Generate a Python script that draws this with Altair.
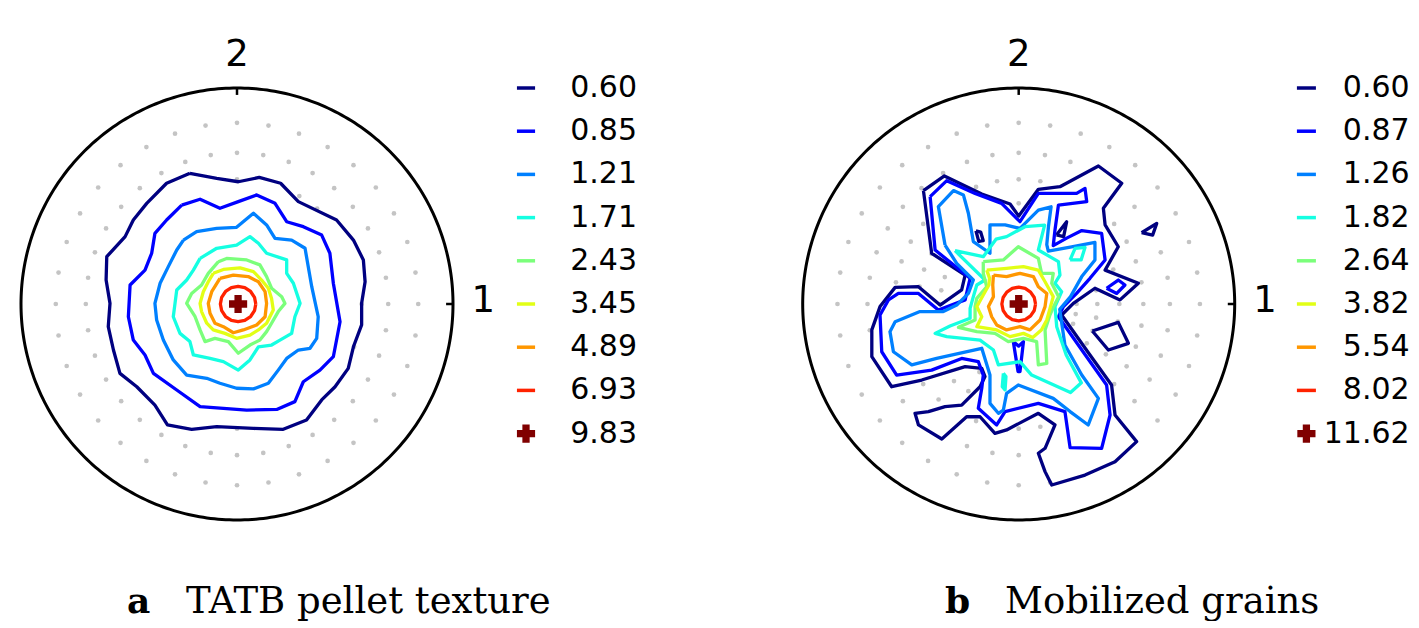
import math
import altair as alt
import pandas as pd

# ---------------- colours (jet colormap, 9 contour levels) ----------------
JET = ["#000080", "#0000ff", "#0080ff", "#15ffe2", "#7bff7b",
       "#e2ff15", "#ff9700", "#ff2200", "#800000"]

A_LEVEL_LABELS = ["0.60", "0.85", "1.21", "1.71", "2.43", "3.45", "4.89", "6.93", "9.83"]
B_LEVEL_LABELS = ["0.60", "0.87", "1.26", "1.82", "2.64", "3.82", "5.54", "8.02", "11.62"]

# pole-figure coordinates in percent of the projection radius (x right = "1", y up = "2")
A_PEAK = [(0.5, 0.0)]
B_PEAK = [(0.0, 0.0)]

# ---------------- panel a: TATB pellet texture ----------------
A_L0 = [(-21.8, 60.5), (-9.4, 58.2), (0.6, 56.6), (10.3, 58.6), (20.2, 55.9), (28.4, 47.4),
        (46.1, 38.9), (53.9, 29.6), (58.5, 20.4), (59.3, 10.3), (57.7, 0.3), (57.7, -9.7),
        (53.9, -19.8), (51.5, -29.8), (45.4, -38.3), (39.2, -44.4), (32.2, -53.7), (21.4, -58.0),
        (7.6, -57.6), (-9.4, -56.8), (-21.0, -58.0), (-32.2, -56.0), (-38.0, -46.8), (-46.4, -38.3),
        (-54.2, -32.1), (-57.2, -21.3), (-59.6, -10.5), (-58.8, 0.3), (-60.6, 11.1), (-60.3, 21.9),
        (-51.8, 31.2), (-48.0, 38.9), (-41.8, 46.6), (-32.6, 55.9)]
A_L1 = [(-25.6, 45.8), (-17.1, 48.5), (-7.9, 44.3), (0.6, 47.4), (9.1, 50.5), (17.6, 46.6),
        (23.0, 38.1), (30.7, 35.8), (39.2, 31.9), (43.0, 23.5), (44.6, 9.6), (47.7, -8.2),
        (44.6, -24.4), (38.4, -30.6), (30.7, -36.0), (26.8, -45.2), (18.4, -48.8), (4.5, -49.1),
        (-17.1, -47.5), (-27.9, -39.8), (-38.7, -32.1), (-42.6, -23.6), (-48.0, -16.7),
        (-50.3, -5.9), (-49.5, 8.8), (-42.6, 15.7), (-39.5, 23.5), (-38.0, 32.7), (-32.6, 38.9)]
A_L2 = [(-24.8, 29.6), (-18.7, 33.5), (-9.4, 35.0), (-0.2, 35.5), (7.6, 42.0), (13.7, 36.6),
        (17.6, 30.4), (25.3, 29.6), (31.5, 25.8), (34.6, 8.0), (37.6, -5.9), (36.9, -15.9),
        (33.8, -20.5), (28.4, -21.3), (23.0, -25.2), (19.1, -30.6), (14.5, -36.7), (7.6, -39.3),
        (-0.2, -39.0), (-7.9, -36.7), (-14.0, -34.4), (-23.3, -32.9), (-29.5, -25.9),
        (-34.1, -16.7), (-37.2, -7.4), (-38.0, 0.3), (-35.6, 9.6), (-31.8, 17.3), (-27.9, 25.0)]
A_L3 = [(-17.1, 21.1), (-9.4, 25.8), (-0.2, 27.3), (6.0, 31.2), (9.9, 28.1), (13.7, 23.5),
        (23.0, 20.4), (23.0, 14.2), (26.1, 9.6), (29.2, 0.3), (26.8, -5.9), (25.3, -13.6),
        (19.9, -16.7), (16.0, -19.0), (9.9, -19.8), (6.0, -25.9), (0.6, -30.6), (-6.3, -26.7),
        (-12.5, -25.2), (-20.2, -23.6), (-21.8, -17.4), (-26.4, -13.6), (-29.5, -5.9),
        (-28.7, 0.3), (-27.9, 6.5), (-23.3, 11.1), (-20.2, 15.7)]
A_L4 = [(-8.6, 19.6), (-4.8, 21.1), (4.5, 20.4), (10.6, 18.1), (13.7, 12.7), (16.0, 7.3),
        (20.7, 3.4), (22.2, 0.3), (19.1, -3.5), (16.0, -8.9), (13.7, -12.8), (10.6, -16.7),
        (6.0, -19.0), (0.6, -22.8), (-4.0, -17.4), (-10.2, -15.9), (-14.8, -17.4), (-17.1, -12.0),
        (-19.4, -5.9), (-23.3, 0.3), (-21.0, 4.9), (-16.4, 8.8), (-13.3, 14.2)]
A_L5 = [(-11.0, 14.2), (-6.3, 16.0), (1.4, 16.7), (7.6, 15.0), (11.4, 11.1), (14.5, 7.3),
        (16.0, 2.6), (16.8, -2.8), (13.7, -8.9), (9.9, -12.0), (6.0, -14.4), (-0.2, -15.9),
        (-5.6, -13.6), (-11.0, -12.0), (-14.0, -8.9), (-16.4, -3.5), (-17.1, 0.3), (-15.6, 5.7),
        (-13.3, 10.3)]
A_L6 = [(-7.9, 11.9), (-1.7, 13.4), (5.2, 12.7), (9.9, 10.3), (13.0, 5.7), (13.7, 0.3),
        (13.0, -5.9), (9.1, -9.7), (2.9, -12.0), (-1.7, -13.3), (-6.3, -10.5), (-10.2, -8.9),
        (-12.5, -4.3), (-13.3, 0.3), (-11.7, 5.7)]
A_L7 = [(8.7, 0.0), (8.1, 3.1), (6.3, 5.8), (3.6, 7.6), (0.5, 8.2), (-2.6, 7.6), (-5.3, 5.8),
        (-7.1, 3.1), (-7.7, 0.0), (-7.1, -3.1), (-5.3, -5.8), (-2.6, -7.6), (0.5, -8.2),
        (3.6, -7.6), (6.3, -5.8), (8.1, -3.1)]

A_CONTOURS = [(0, A_L0), (1, A_L1), (2, A_L2), (3, A_L3), (4, A_L4), (5, A_L5), (6, A_L6), (7, A_L7)]
A_OUTER = [A_L0]

# ---------------- panel b: mobilized grains ----------------
B_L0_MAIN = [(-44.1, 52.5), (-34.4, 59.3), (-17.1, 50.9), (-4.0, 46.3), (0.0, 40.7), (9.1, 53.1),
             (19.1, 54.3), (36.9, 63.9), (47.7, 55.9), (39.2, 44.3), (40.0, 36.6), (46.1, 26.5),
             (40.0, 15.7), (55.4, 9.6), (46.9, 1.9), (35.3, 7.3), (25.3, 0.3), (19.9, -5.1),
             (33.0, -23.6), (43.0, -37.5), (44.6, -51.4), (54.6, -63.7), (44.6, -73.0),
             (30.7, -79.2), (15.3, -83.8), (12.2, -77.6), (9.1, -69.1), (12.2, -66.8),
             (16.8, -56.0), (9.1, -50.6), (-5.6, -58.3), (-11.0, -59.9), (-17.9, -52.2),
             (-24.1, -52.2), (-35.6, -62.5), (-46.4, -56.0), (-48.0, -50.6), (-41.8, -49.8),
             (-34.1, -47.5), (-26.4, -46.8), (-17.9, -38.3), (-15.6, -33.6), (-17.1, -29.8),
             (-24.8, -29.0), (-44.9, -35.2), (-58.8, -38.3), (-68.0, -24.4), (-68.0, -12.0),
             (-64.2, -1.2), (-57.2, 7.7), (-46.4, 8.0), (-36.4, -0.5), (-26.4, 6.5),
             (-24.8, 13.4), (-40.3, 23.5)]
B_L0_ISLE_TRI = [(56.9, 33.0), (63.9, 37.3), (62.0, 31.9)]
B_L0_ISLE_SQ = [(34.1, -12.5), (46.1, -8.5), (50.8, -18.2), (41.5, -21.3)]
B_L0_HOLE_DIA = [(-19.8, 33.9), (-17.6, 33.3), (-16.4, 29.3), (-18.5, 29.0)]
B_L0_HOLE_TRI = [(17.5, 32.0), (22.2, 38.1), (20.8, 31.2)]

B_L1_MAIN = [(-41.0, 49.7), (-33.3, 57.1), (-20.2, 51.2), (-7.9, 46.6), (0.6, 38.1), (9.1, 51.2),
             (26.8, 51.2), (30.7, 53.5), (31.5, 47.4), (18.4, 45.8), (16.8, 34.3), (16.0, 27.0),
             (22.2, 30.5), (29.2, 34.0), (38.4, 32.7), (40.0, 20.4), (33.0, 11.9), (26.8, 4.9),
             (20.7, -1.2), (18.4, -5.9), (29.8, -22.1), (40.7, -37.5), (42.3, -51.4),
             (38.4, -66.8), (23.8, -66.5), (21.4, -49.8), (9.1, -46.0), (-6.3, -49.8),
             (-10.2, -56.0), (-18.7, -48.3), (-17.1, -39.0), (-16.4, -32.9), (-18.7, -26.7),
             (-26.4, -25.2), (-40.3, -30.6), (-56.5, -32.9), (-63.4, -22.1), (-64.2, -5.1),
             (-60.3, 1.9), (-55.7, 4.9), (-46.4, 4.9), (-37.2, -2.8), (-24.8, 1.9),
             (-22.5, 11.9), (-38.7, 25.0)]
B_L1_ISLE = [(40.7, 7.3), (46.1, 11.1), (49.2, 8.8), (45.4, 4.9)]
B_L1_SPIKE = [(-2.5, -17.4), (-0.3, -31.3), (0.6, -31.3), (2.2, -17.4), (0.0, -19.5)]

B_L2_MAIN = [(-34.1, 27.3), (-37.2, 45.1), (-30.2, 52.5), (-25.6, 50.5), (-23.3, 42.0),
             (-21.0, 28.9), (-13.3, 23.5), (-13.3, 36.6), (-6.3, 36.6), (0.6, 35.0), (9.1, 43.5),
             (15.0, 45.0), (13.8, 36.0), (13.0, 27.5), (13.7, 24.5), (24.5, 26.5), (35.3, 28.5),
             (35.3, 20.4), (29.2, 12.7), (24.0, 3.4), (19.0, -2.5), (21.4, -19.0), (29.2, -32.9),
             (36.9, -43.7), (32.2, -56.0), (23.8, -49.8), (16.0, -43.7), (-0.2, -37.5),
             (-5.6, -41.4), (-7.1, -49.1), (-9.4, -50.6), (-13.3, -46.0), (-13.3, -32.9),
             (-17.1, -20.5), (-38.0, -25.2), (-49.5, -28.2), (-58.0, -22.1), (-59.6, -12.8),
             (-57.2, -8.2), (-45.7, -3.5), (-34.9, -3.5), (-28.7, -0.5), (-23.3, 4.9),
             (-21.0, 11.1), (-28.7, 18.8)]

B_L3_MAIN = [(-29.5, 24.7), (-16.4, 21.9), (-10.5, 30.0), (-5.6, 31.2), (2.9, 35.8), (12.0, 36.5),
             (9.1, 25.0), (18.4, 19.6), (19.1, 13.4), (16.8, 9.6), (19.9, 5.7), (16.8, -1.2),
             (17.6, -10.5), (22.0, -23.6), (29.0, -36.5), (24.0, -41.0), (6.0, -32.9),
             (0.6, -26.7), (-9.4, -28.2), (-11.7, -21.3), (-17.9, -16.7), (-33.3, -15.1),
             (-38.7, -13.6), (-31.8, -10.2), (-22.5, -6.6), (-22.5, -2.0), (-21.0, 3.4),
             (-19.4, 8.8), (-15.6, 11.1)]
B_L3_ISLE_DIA = [(23.8, 20.4), (26.1, 25.8), (30.7, 26.2), (28.9, 20.4)]
B_L3_ISLE_SLIVER = [(-7.1, -32.1), (-5.9, -33.6), (-6.3, -39.8), (-7.6, -38.3)]

B_L4 = [(-16.4, 19.6), (-7.1, 20.4), (-0.2, 26.5), (9.1, 21.1), (10.6, 14.2), (16.0, 14.2),
        (15.3, 9.6), (18.5, 3.4), (16.0, -1.5), (14.5, -5.0), (12.2, -12.0), (13.0, -27.5),
        (9.1, -28.2), (8.3, -17.4), (2.2, -15.9), (-4.8, -17.4), (-11.0, -13.6), (-19.4, -12.8),
        (-27.9, -10.8), (-20.2, -7.4), (-20.2, -1.2), (-19.4, 2.6), (-14.8, 8.0), (-16.4, 14.2)]
B_L5 = [(-14.8, 15.7), (-5.6, 16.5), (2.2, 17.3), (9.1, 15.7), (12.2, 10.3), (16.0, 3.4),
        (14.5, -2.0), (13.0, -7.4), (10.5, -12.0), (6.5, -15.5), (2.2, -13.6), (-4.0, -15.1),
        (-10.2, -12.0), (-19.4, -10.5), (-17.1, -5.9), (-19.4, -1.2), (-16.4, 4.2),
        (-13.8, 8.8), (-13.5, 12.0)]
B_L6 = [(-11.7, 13.4), (-5.6, 12.7), (0.6, 14.2), (6.8, 12.7), (9.1, 8.0), (13.0, 4.9),
        (12.2, -1.2), (9.9, -7.4), (5.2, -12.0), (0.6, -10.5), (-5.6, -12.0), (-10.2, -9.7),
        (-12.5, -5.9), (-14.0, -1.2), (-11.7, 3.4), (-12.0, 8.8)]
B_L7 = [(7.8, 0.0), (7.2, 3.0), (5.5, 5.5), (3.0, 7.2), (0.0, 7.8), (-3.0, 7.2), (-5.5, 5.5),
        (-7.2, 3.0), (-7.8, 0.0), (-7.2, -3.0), (-5.5, -5.5), (-3.0, -7.2), (0.0, -7.8),
        (3.0, -7.2), (5.5, -5.5), (7.2, -3.0)]

B_CONTOURS = [(0, B_L0_MAIN), (0, B_L0_ISLE_TRI), (0, B_L0_ISLE_SQ), (0, B_L0_HOLE_DIA),
              (0, B_L0_HOLE_TRI), (1, B_L1_MAIN), (1, B_L1_ISLE), (1, B_L1_SPIKE),
              (2, B_L2_MAIN), (3, B_L3_MAIN), (3, B_L3_ISLE_DIA), (3, B_L3_ISLE_SLIVER),
              (4, B_L4), (5, B_L5), (6, B_L6), (7, B_L7)]
B_OUTER = [B_L0_MAIN, B_L0_ISLE_TRI, B_L0_ISLE_SQ]

# measurement grid of the pole figure (stereographic rings, 10 degree azimuth steps)
GRID_RING_RADII = [8.7, 17.6, 26.8, 36.4, 46.6, 57.7, 70.0, 83.9]
GRID_AZIMUTHS = list(range(0, 360, 10))

AXIS_LABELS = [("2", 0.0, 115.3), ("1", 114.0, 1.4)]

# ---------------- layout ----------------
HEIGHT = 613
Y_DOMAIN = [-146.76, 137.04]
A_WIDTH, A_X_DOMAIN = 692, [-106.02, 214.35]
B_WIDTH, B_X_DOMAIN = 703, [-143.84, 181.62]


def inside(pt, poly):
    x, y = pt
    n = len(poly)
    c = False
    j = n - 1
    for i in range(n):
        xi, yi = poly[i]
        xj, yj = poly[j]
        if (yi > y) != (yj > y):
            xc = xi + (y - yi) * (xj - xi) / (yj - yi)
            if x < xc:
                c = not c
        j = i
    return c


def panel(contours, outer, peak, labels, xdom, width, letter, caption,
          leg_x1, leg_x2, leg_tx, letter_x, cap_x):
    xs = alt.Scale(domain=xdom, nice=False, zero=False)
    ys = alt.Scale(domain=Y_DOMAIN, nice=False, zero=False)

    def X(f="x"):
        return alt.X(f"{f}:Q", scale=xs, axis=None)

    def Y(f="y"):
        return alt.Y(f"{f}:Q", scale=ys, axis=None)

    # grid dots outside the lowest contour
    dots = []
    for r in GRID_RING_RADII:
        for a in GRID_AZIMUTHS:
            p = (r * math.cos(math.radians(a)), r * math.sin(math.radians(a)))
            if not any(inside(p, poly) for poly in outer):
                dots.append({"x": p[0], "y": p[1]})
    dots_l = alt.Chart(pd.DataFrame(dots)).mark_circle(size=22, color="#c4c4c4", opacity=1).encode(
        x=X(), y=Y())

    # frame circle
    circ = pd.DataFrame({"k": list(range(361)),
                         "x": [100 * math.cos(math.radians(t)) for t in range(361)],
                         "y": [100 * math.sin(math.radians(t)) for t in range(361)]})
    circ_l = alt.Chart(circ).mark_line(color="black", strokeWidth=3).encode(
        x=X(), y=Y(), order="k:Q")

    ticks = pd.DataFrame({"x": [0.0, 100.0], "y": [100.0, 0.0], "x2": [0.0, 96.8], "y2": [96.8, 0.0]})
    ticks_l = alt.Chart(ticks).mark_rule(color="black", strokeWidth=2.5).encode(
        x=X(), y=Y(), x2="x2:Q", y2="y2:Q")

    rows = []
    for cid, (lvl, pts) in enumerate(contours):
        for k, (x, y) in enumerate(pts + [pts[0]]):
            rows.append({"cid": cid, "k": k, "x": x, "y": y, "color": JET[lvl]})
    cont_l = alt.Chart(pd.DataFrame(rows)).mark_line(strokeWidth=3.3, strokeJoin="round").encode(
        x=X(), y=Y(), detail="cid:N", order="k:Q", color=alt.Color("color:N", scale=None))

    peak_l = alt.Chart(pd.DataFrame([{"x": p[0], "y": p[1]} for p in peak])).mark_point(
        shape="cross", filled=True, size=330, color=JET[8], opacity=1).encode(x=X(), y=Y())

    lab_l = alt.Chart(pd.DataFrame([{"t": t, "x": x, "y": y} for t, x, y in AXIS_LABELS])).mark_text(
        font="DejaVu Sans", fontSize=37, color="black", align="center", baseline="middle").encode(
        x=X(), y=Y(), text="t:N")

    leg = pd.DataFrame({"label": labels,
                        "y": [100 - 20 * i for i in range(len(labels))],
                        "x1": leg_x1, "x2": leg_x2, "xm": (leg_x1 + leg_x2) / 2, "xt": leg_tx,
                        "color": JET})
    leg_lines = alt.Chart(leg.iloc[:-1]).mark_rule(strokeWidth=3.5).encode(
        x=X("x1"), x2="x2:Q", y=Y(), color=alt.Color("color:N", scale=None))
    leg_cross = alt.Chart(leg.iloc[-1:]).mark_point(
        shape="cross", filled=True, size=330, color=JET[8], opacity=1).encode(x=X("xm"), y=Y())
    leg_text = alt.Chart(leg).mark_text(
        font="DejaVu Sans", fontSize=30, color="black", align="right", baseline="middle").encode(
        x=X("xt"), y=Y(), text="label:N")

    cap = pd.DataFrame({"t": [letter, caption], "x": [letter_x, cap_x], "y": [-143.1, -143.1]})
    cap_b = alt.Chart(cap.iloc[:1]).mark_text(
        font="DejaVu Serif", fontSize=36, fontWeight="bold", color="black", align="left",
        baseline="alphabetic").encode(x=X(), y=Y(), text="t:N")
    cap_n = alt.Chart(cap.iloc[1:]).mark_text(
        font="DejaVu Serif", fontSize=37, color="black", align="left",
        baseline="alphabetic").encode(x=X(), y=Y(), text="t:N")

    return alt.layer(dots_l, circ_l, ticks_l, cont_l, peak_l, lab_l,
                     leg_lines, leg_cross, leg_text, cap_b, cap_n).properties(
        width=width, height=HEIGHT)


pa = panel(A_CONTOURS, A_OUTER, A_PEAK, A_LEVEL_LABELS, A_X_DOMAIN, A_WIDTH,
           "a", "TATB pellet texture", 129.6, 138.0, 185.2, -50.9, -23.6)
pb = panel(B_CONTOURS, B_OUTER, B_PEAK, B_LEVEL_LABELS, B_X_DOMAIN, B_WIDTH,
           "b", "Mobilized grains", 128.8, 137.6, 181.0, -34.1, -6.3)

chart = alt.hconcat(pa, pb, spacing=8).properties(padding=0, background="white").configure_view(
    stroke=None)

chart.save("out.html", embed_options={"renderer": "svg", "actions": False})
